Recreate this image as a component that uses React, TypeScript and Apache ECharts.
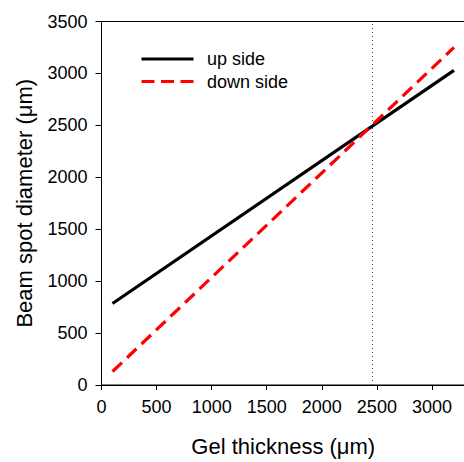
import React, { useEffect, useRef } from "react";
import * as echarts from "echarts";

const thickness = [100, 3200];
const upSide = [785, 3030];
const downSide = [130, 3250];
const markerX = 2460;
const yRange = [0, 3500];
const xTicksMax = 3300;

export default function App() {
  const ref = useRef<HTMLDivElement>(null);
  useEffect(() => {
    if (!ref.current) return;
    const chart = echarts.init(ref.current, null, { renderer: "svg" });
    const font = "'Liberation Sans', Arial, sans-serif";
    chart.setOption({
      animation: false,
      backgroundColor: "#ffffff",
      grid: {
        left: 101.5,
        right: -1,
        top: 21.5,
        bottom: 77,
        show: true,
        borderColor: "#000",
        borderWidth: 1,
        containLabel: false,
        outerBoundsMode: "none",
      },
      xAxis: {
        type: "value",
        min: 0,
        max: xTicksMax,
        interval: 500,
        name: "Gel thickness (\u03bcm)",
        nameLocation: "middle",
        nameGap: 50,
        nameTextStyle: { fontFamily: font, fontSize: 22, color: "#000" },
        axisLine: { show: true, onZero: false, lineStyle: { color: "#000", width: 1 } },
        axisTick: { show: true, inside: false, length: 5, lineStyle: { color: "#000" } },
        axisLabel: {
          margin: 13,
          fontFamily: font,
          fontSize: 18,
          color: "#000",
          showMaxLabel: false,
          formatter: (v: number) => String(v),
        },
        splitLine: { show: false },
      },
      yAxis: {
        type: "value",
        min: yRange[0],
        max: yRange[1],
        interval: 500,
        name: "Beam spot diameter (\u03bcm)",
        nameLocation: "middle",
        nameGap: 66,
        nameTextStyle: { fontFamily: font, fontSize: 22, color: "#000" },
        axisLine: { show: true, lineStyle: { color: "#000", width: 1 } },
        axisTick: { show: true, inside: false, length: 6, lineStyle: { color: "#000" } },
        axisLabel: {
          margin: 14,
          fontFamily: font,
          fontSize: 18,
          color: "#000",
          formatter: (v: number) => String(v),
        },
        splitLine: { show: false },
      },
      series: [
        {
          name: "marker",
          type: "line",
          data: [
            [markerX, yRange[0]],
            [markerX, yRange[1]],
          ],
          symbol: "none",
          lineStyle: { color: "#444", width: 1, type: [1, 3] },
          silent: true,
        },
        {
          name: "up side",
          type: "line",
          data: thickness.map((x, i) => [x, upSide[i]]),
          symbol: "none",
          lineStyle: { color: "#000", width: 3.2, cap: "butt" },
        },
        {
          name: "down side",
          type: "line",
          data: thickness.map((x, i) => [x, downSide[i]]),
          symbol: "none",
          lineStyle: { color: "#ff0000", width: 3.2, type: [13, 7], cap: "butt" },
        },
      ],
      graphic: [
        {
          type: "line",
          shape: { x1: 141.5, y1: 59, x2: 193.5, y2: 59 },
          style: { stroke: "#000", lineWidth: 3.2 },
        },
        {
          type: "line",
          shape: { x1: 141.5, y1: 81.5, x2: 193.5, y2: 81.5 },
          style: { stroke: "#ff0000", lineWidth: 3.2, lineDash: [13, 6.5] },
        },
        {
          type: "text",
          x: 207,
          y: 59,
          style: {
            text: "up side",
            fontFamily: font,
            fontSize: 18,
            fill: "#000",
            verticalAlign: "middle",
            align: "left",
          },
        },
        {
          type: "text",
          x: 207,
          y: 81.5,
          style: {
            text: "down side",
            fontFamily: font,
            fontSize: 18,
            fill: "#000",
            verticalAlign: "middle",
            align: "left",
          },
        },
      ],
    });
    return () => chart.dispose();
  }, []);
  return (
    <div
      style={{
        position: "fixed",
        left: 0,
        top: 0,
        width: 464,
        height: 462,
        overflow: "hidden",
        background: "#fff",
      }}
    >
      <div ref={ref} style={{ width: 464, height: 462 }} />
    </div>
  );
}
